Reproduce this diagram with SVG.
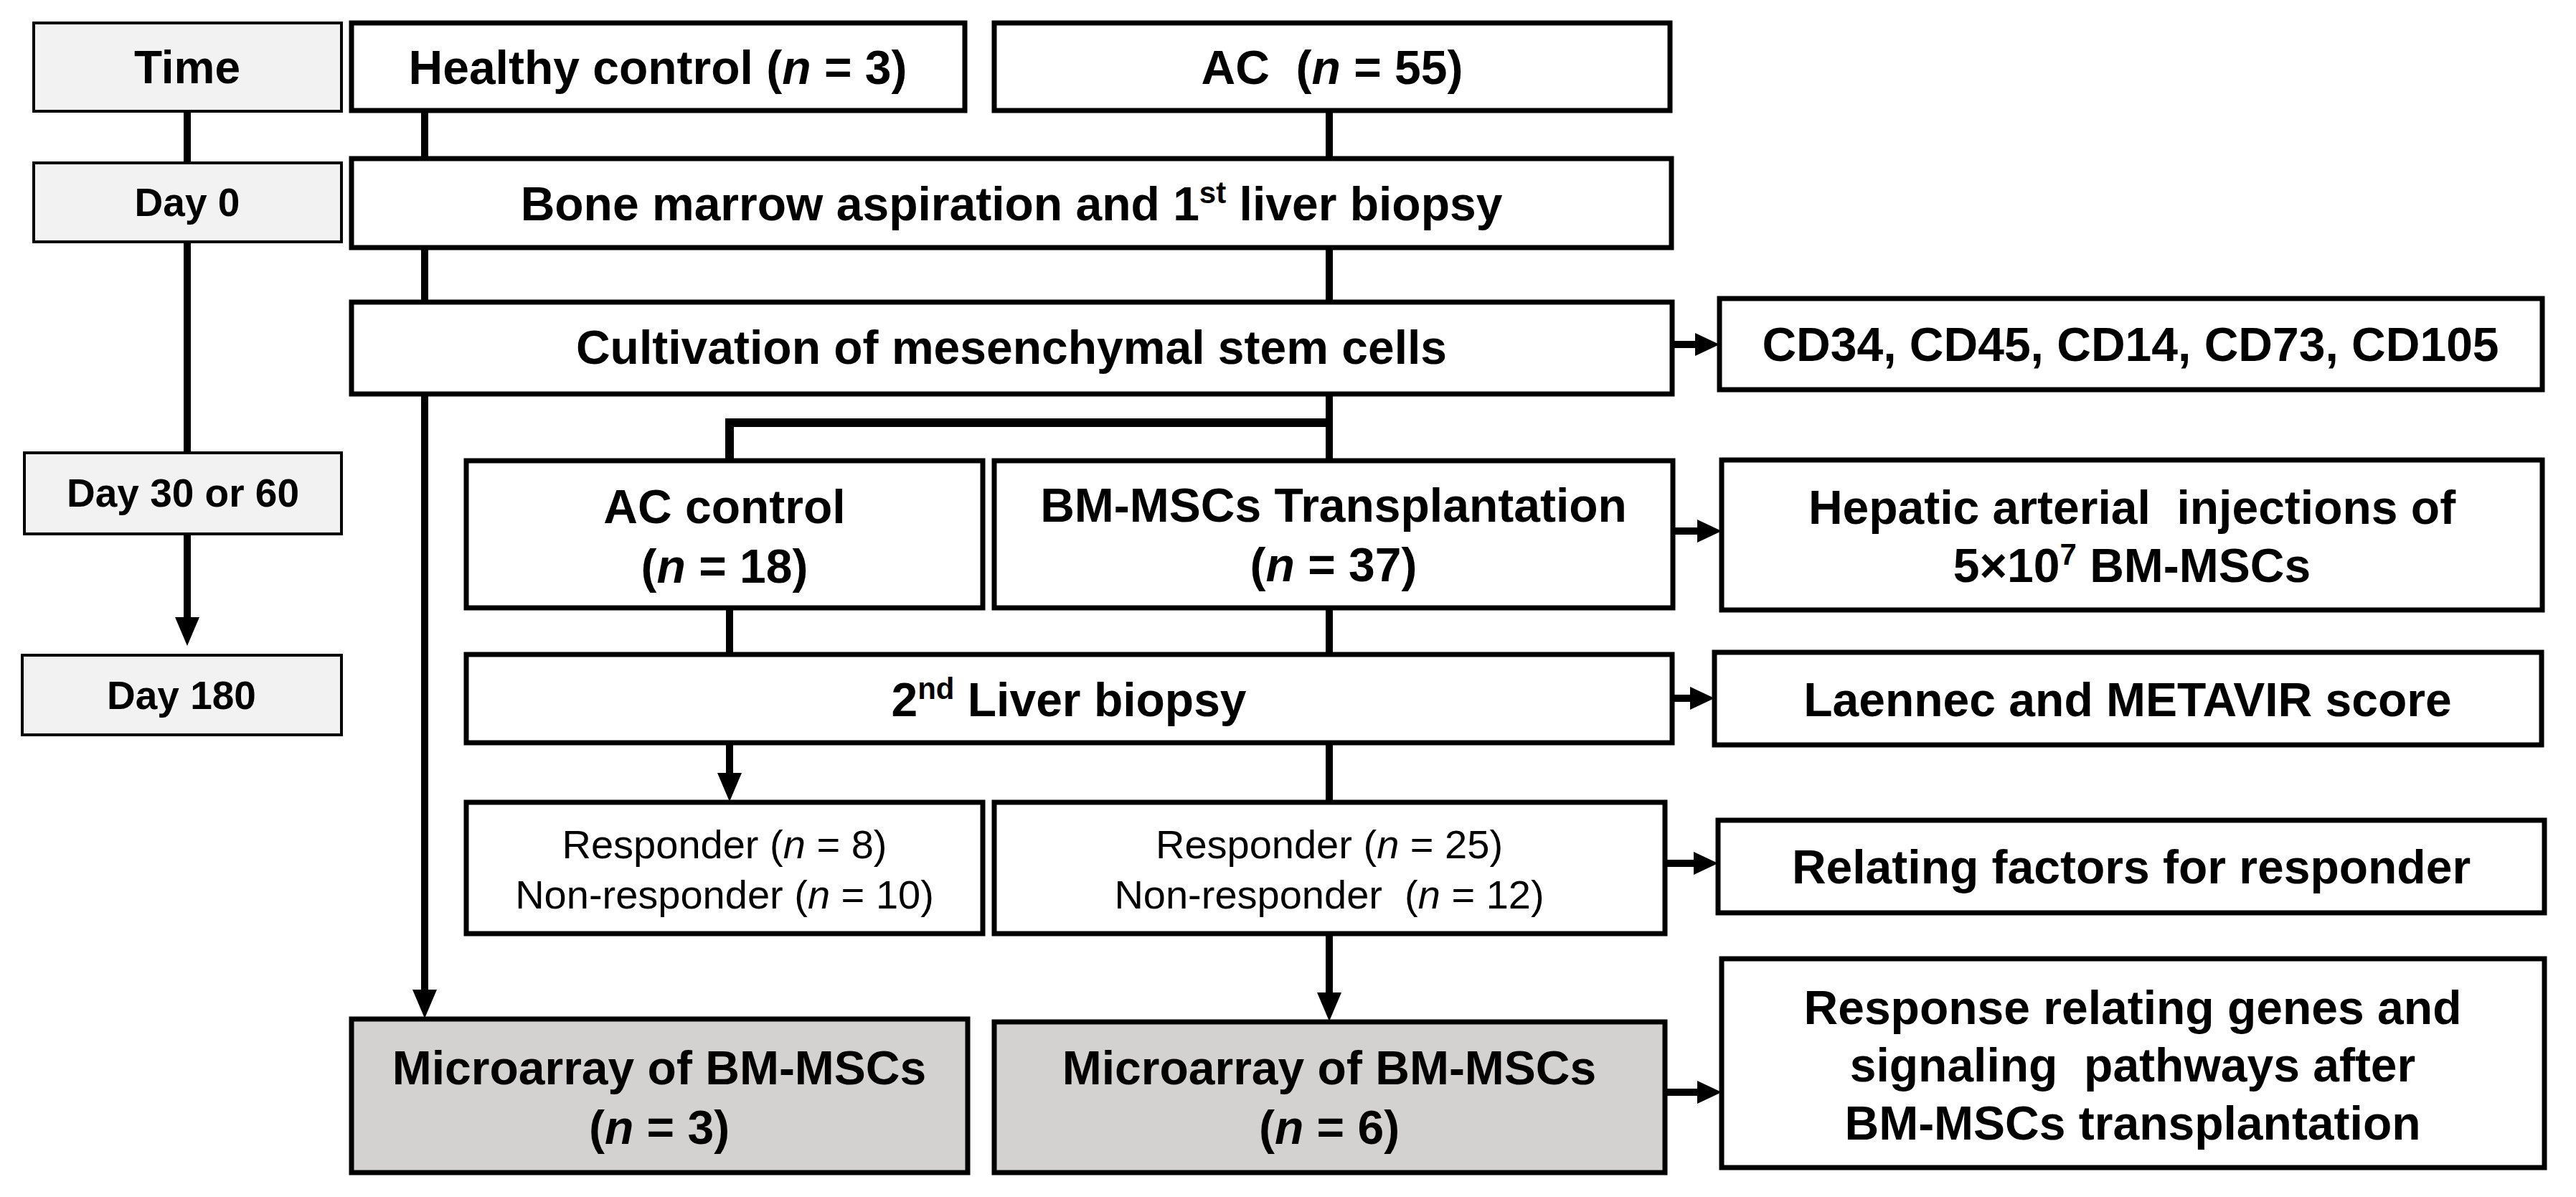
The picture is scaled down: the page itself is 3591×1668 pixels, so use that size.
<svg xmlns="http://www.w3.org/2000/svg" width="3591" height="1668" viewBox="0 0 3591 1668">
<style>
  .box { fill: #ffffff; stroke: #000000; stroke-width: 7; }
  .tbox { fill: #f2f2f2; stroke: #000000; stroke-width: 4; }
  .gbox { fill: #d4d2d1; stroke: #000000; stroke-width: 7; }
  .t { font-family: "Liberation Sans", Arial, sans-serif; font-weight: bold; font-size: 66px; fill: #000; text-anchor: middle; }
  .d { font-family: "Liberation Sans", Arial, sans-serif; font-weight: bold; font-size: 55px; fill: #000; text-anchor: middle; }
  .r { font-family: "Liberation Sans", Arial, sans-serif; font-weight: normal; font-size: 56px; fill: #000; text-anchor: middle; }
  .c { fill: none; stroke: #000000; stroke-width: 10; }
  .i { font-style: italic; }
</style>
<defs>
  <marker id="ah" viewBox="0 0 40 34" refX="10" refY="17" markerWidth="40" markerHeight="34" markerUnits="userSpaceOnUse" orient="auto">
    <path d="M0,0 L40,17 L0,34 Z" fill="#000"/>
  </marker>
  <marker id="ahs" viewBox="0 0 34 32" refX="8" refY="16" markerWidth="34" markerHeight="32" markerUnits="userSpaceOnUse" orient="auto">
    <path d="M0,0 L34,16 L0,32 Z" fill="#000"/>
  </marker>
</defs>
<rect width="3591" height="1668" fill="#ffffff"/>

<g id="connectors">
  <line class="c" x1="261" y1="155" x2="261" y2="227"/>
  <line class="c" x1="261" y1="337" x2="261" y2="631"/>
  <line class="c" x1="261" y1="744" x2="261" y2="870" marker-end="url(#ah)"/>
  <line class="c" x1="592" y1="142" x2="592" y2="1389" marker-end="url(#ah)"/>
  <line class="c" x1="1853" y1="154" x2="1853" y2="642"/>
  <polyline class="c" points="1853,589 1017,589 1017,642" style="stroke-width:12"/>
  <line class="c" x1="1853" y1="847" x2="1853" y2="1118"/>
  <line class="c" x1="1853" y1="1301" x2="1853" y2="1393" marker-end="url(#ah)"/>
  <line class="c" x1="1017" y1="847" x2="1017" y2="912"/>
  <line class="c" x1="1017" y1="1035" x2="1017" y2="1087" marker-end="url(#ah)"/>
  <line class="c" x1="2331" y1="480" x2="2371" y2="480" marker-end="url(#ahs)"/>
  <line class="c" x1="2332" y1="740" x2="2374" y2="740" marker-end="url(#ahs)"/>
  <line class="c" x1="2331" y1="973" x2="2364" y2="973" marker-end="url(#ahs)"/>
  <line class="c" x1="2321" y1="1203" x2="2369" y2="1203" marker-end="url(#ahs)"/>
  <line class="c" x1="2321" y1="1522" x2="2374" y2="1522" marker-end="url(#ahs)"/>
</g>

<g id="time">
  <rect class="tbox" x="47" y="32" width="429" height="123"/>
  <text class="t" x="261" y="116" style="font-size:64px">Time</text>
</g>
<g id="day0">
  <rect class="tbox" x="47" y="227" width="429" height="110"/>
  <text class="d" x="261" y="301">Day 0</text>
</g>
<g id="day30">
  <rect class="tbox" x="34" y="631" width="442" height="113"/>
  <text class="d" x="255" y="706">Day 30 or 60</text>
</g>
<g id="day180">
  <rect class="tbox" x="31" y="913" width="445" height="111"/>
  <text class="d" x="253" y="988">Day 180</text>
</g>

<g id="healthy">
  <rect class="box" x="490" y="32" width="855" height="122"/>
  <text class="t" x="917" y="117">Healthy control (<tspan class="i">n</tspan> = 3)</text>
</g>
<g id="ac">
  <rect class="box" x="1386" y="32" width="942" height="122"/>
  <text class="t" x="1857" y="117" xml:space="preserve">AC  (<tspan class="i">n</tspan> = 55)</text>
</g>
<g id="bone-marrow">
  <rect class="box" x="490" y="221" width="1840" height="124"/>
  <text class="t" x="1410" y="307">Bone marrow aspiration and 1<tspan dy="-24" style="font-size:42px">st</tspan><tspan dy="24"> liver biopsy</tspan></text>
</g>
<g id="cultivation">
  <rect class="box" x="490" y="421" width="1841" height="128"/>
  <text class="t" x="1410" y="507">Cultivation of mesenchymal stem cells</text>
</g>
<g id="cd-markers">
  <rect class="box" x="2397" y="416" width="1147" height="127"/>
  <text class="t" x="2970" y="503">CD34, CD45, CD14, CD73, CD105</text>
</g>
<g id="ac-control">
  <rect class="box" x="650" y="642" width="720" height="205"/>
  <text class="t" x="1010" y="729">AC control</text>
  <text class="t" x="1010" y="812">(<tspan class="i">n</tspan> = 18)</text>
</g>
<g id="bm-transplantation">
  <rect class="box" x="1386" y="642" width="946" height="205"/>
  <text class="t" x="1859" y="727">BM-MSCs Transplantation</text>
  <text class="t" x="1859" y="810">(<tspan class="i">n</tspan> = 37)</text>
</g>
<g id="hepatic">
  <rect class="box" x="2400" y="641" width="1144" height="209"/>
  <text class="t" x="2972" y="730" xml:space="preserve">Hepatic arterial  injections of</text>
  <text class="t" x="2972" y="811">5×10<tspan dy="-24" style="font-size:42px">7</tspan><tspan dy="24"> BM-MSCs</tspan></text>
</g>
<g id="second-biopsy">
  <rect class="box" x="650" y="912" width="1681" height="123"/>
  <text class="t" x="1490" y="998">2<tspan dy="-24" style="font-size:42px">nd</tspan><tspan dy="24"> Liver biopsy</tspan></text>
</g>
<g id="laennec">
  <rect class="box" x="2390" y="909" width="1153" height="129"/>
  <text class="t" x="2966" y="998">Laennec and METAVIR score</text>
</g>
<g id="responder-ac">
  <rect class="box" x="650" y="1118" width="720" height="183"/>
  <text class="r" x="1010" y="1196">Responder (<tspan class="i">n</tspan> = 8)</text>
  <text class="r" x="1010" y="1266">Non-responder (<tspan class="i">n</tspan> = 10)</text>
</g>
<g id="responder-bm">
  <rect class="box" x="1386" y="1118" width="935" height="183"/>
  <text class="r" x="1853" y="1196">Responder (<tspan class="i">n</tspan> = 25)</text>
  <text class="r" x="1853" y="1266" xml:space="preserve">Non-responder  (<tspan class="i">n</tspan> = 12)</text>
</g>
<g id="relating-factors">
  <rect class="box" x="2395" y="1143" width="1152" height="129"/>
  <text class="t" x="2971" y="1231">Relating factors for responder</text>
</g>
<g id="microarray-healthy">
  <rect class="gbox" x="490" y="1420" width="859" height="214"/>
  <text class="t" x="919" y="1511">Microarray of BM-MSCs</text>
  <text class="t" x="919" y="1594">(<tspan class="i">n</tspan> = 3)</text>
</g>
<g id="microarray-bm">
  <rect class="gbox" x="1386" y="1424" width="935" height="210"/>
  <text class="t" x="1853" y="1511">Microarray of BM-MSCs</text>
  <text class="t" x="1853" y="1594">(<tspan class="i">n</tspan> = 6)</text>
</g>
<g id="response-genes">
  <rect class="box" x="2400" y="1336" width="1147" height="291"/>
  <text class="t" x="2973" y="1427">Response relating genes and</text>
  <text class="t" x="2973" y="1507" xml:space="preserve">signaling  pathways after</text>
  <text class="t" x="2973" y="1588">BM-MSCs transplantation</text>
</g>
</svg>
